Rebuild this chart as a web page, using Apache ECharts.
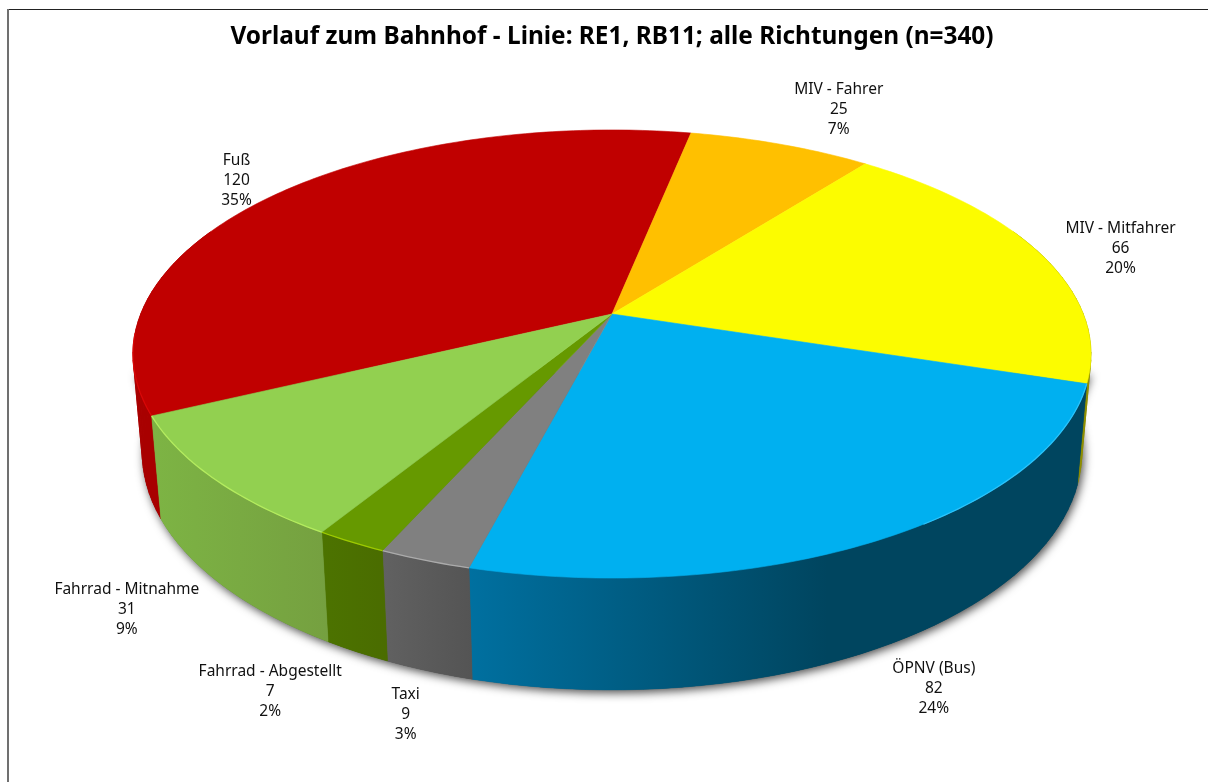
<!DOCTYPE html>
<html><head><meta charset="utf-8">
<style>html,body{margin:0;padding:0;background:#fff}#c{width:1208px;height:782px}</style>
<script src="https://cdn.jsdelivr.net/npm/echarts@6/dist/echarts.min.js"></script>
</head><body><div id="c"></div>
<script>
const titleText = 'Vorlauf zum Bahnhof - Linie: RE1, RB11; alle Richtungen (n=340)';
const categories = ['Fuß','MIV - Fahrer','MIV - Mitfahrer','ÖPNV (Bus)','Taxi','Fahrrad - Abgestellt','Fahrrad - Mitnahme'];
const values = [120,25,66,82,9,7,31];
const percentLabels = ['35%','7%','20%','24%','3%','2%','9%'];

// styling
const topColors = ['#C00000','#FFC000','#FCFC00','#00B0F0','#808080','#669900','#92D050'];
const wallColors = [
  [[0,'#A80000'],[1,'#A80000']],
  [[0,'#A87E00'],[1,'#A87E00']],
  [[0,'#8E8E00'],[1,'#8E8E00']],
  [[0,'#0070A0'],[0.58,'#00455F'],[1,'#00455F']],
  [[0,'#616161'],[1,'#545454']],
  [[0,'#4C7300'],[1,'#4A6C00']],
  [[0,'#7DB444'],[1,'#75A040']]
];
const rimColors = ['#DC0808',null,null,'#30C8FF','#B0B0B0','#A4D000','#B8F060'];
// label offset from the slice's rim mid-point
const labelOffsets = [[-40,-14],[58,-35],[81,-4],[52,149],[-19,154],[-81,150],[-88,130]];

// projection of the disc
const scene = {cx:612, cy:314, a:471.3, b:216.9, k:0.1786, d:99, m:0.019, start:-115.7};
function proj(deg, z){
  const t = deg*Math.PI/180, u = Math.sin(t), v = -Math.cos(t);
  const w = 1 - scene.k*v + scene.m*z;
  return [scene.cx + scene.a*u/w, scene.cy + (scene.b*v + scene.d*z)/w];
}
const total = values.reduce((s,x)=>s+x,0);
const spans = []; (function(){ let acc = scene.start;
  values.forEach(x=>{ const e = acc + x/total*360; spans.push([acc,e]); acc = e; }); })();
function arc(a0,a1,z){ const n = Math.max(2,Math.ceil(Math.abs(a1-a0))); const p=[];
  for(let i=0;i<=n;i++) p.push(proj(a0+(a1-a0)*i/n,z)); return p; }
const itemData = values.map((v,i)=>({name:categories[i],value:v}));
const BODY = '"Noto Sans"';

// the part of a slice's outer wall that faces the viewer
function frontSpan(a0,a1){
  if(a0 < -66) return [a0, Math.min(a1,-66)];
  const s = Math.max(a0,66);
  return s < a1 ? [s,a1] : null;
}
function wallFill(i,a0,a1){
  const xs=arc(a0,a1,0).concat(arc(a0,a1,1)).map(q=>q[0]);
  return {type:'linear',global:true,x:Math.min(...xs),y:0,x2:Math.max(...xs),y2:0,
    colorStops:wallColors[i].map(s=>({offset:s[0],color:s[1]}))};
}

const option = {
  animation:false, backgroundColor:'#fff',
  title:{text:titleText,left:607,textAlign:'center',top:20,
    textStyle:{fontFamily:BODY,fontSize:24.4,fontWeight:'bold',color:'#000'}},
  graphic:[
    {type:'line',shape:{x1:8,y1:9.5,x2:1208,y2:9.5},style:{stroke:'#222',lineWidth:1}},
    {type:'line',shape:{x1:8,y1:9,x2:8,y2:782},style:{stroke:'#707070',lineWidth:2}}
  ],
  series:[
    {type:'custom',coordinateSystem:'none',z:1,silent:true,data:[0],
      renderItem(){ return {type:'polygon',
        shape:{points:[proj(105,0)].concat(arc(90,270,1),[proj(255,0)])},
        style:{fill:'#555',shadowBlur:10,shadowColor:'rgba(0,0,0,0.7)',shadowOffsetX:2,shadowOffsetY:3}}; }},
    {type:'custom',coordinateSystem:'none',z:2,silent:true,data:itemData,
      renderItem(p){ const i=p.dataIndex; const sp=frontSpan(spans[i][0],spans[i][1]);
        if(!sp) return {type:'group',children:[]};
        const [a0,a1]=sp; const fill=wallFill(i,a0,a1);
        const kids=[{type:'polygon',shape:{points:arc(a0,a1,0).concat(arc(a1,a0,1))},style:{fill}}];
        const n=Math.ceil((a1-a0)/2);
        for(let j=0;j<n;j++){
          const s=a0+(a1-a0)*j/n,e=a0+(a1-a0)*(j+1)/n;
          kids.push({type:'polygon',shape:{points:[proj(s,0),proj(e,0),proj(e,1),proj(s,1)]},
            style:{fill,stroke:fill,lineWidth:0.5}});
        }
        return {type:'group',children:kids}; }},
    {type:'custom',coordinateSystem:'none',z:3,silent:true,data:itemData,
      renderItem(p){ const i=p.dataIndex,[a0,a1]=spans[i]; const c=topColors[i];
        const pts=[[scene.cx,scene.cy]].concat(arc(a0,a1,0));
        const kids=[{type:'polygon',shape:{points:pts},style:{fill:c,stroke:c,lineWidth:0.6}}];
        if(rimColors[i]){
          let from=a0,to=a1;
          if(i===0) to=-95;
          if(i===3) to=a0+38;
          kids.push({type:'polyline',shape:{points:arc(from,to,0)},
            style:{fill:null,stroke:rimColors[i],lineWidth:1.3,opacity:0.9}});
        }
        return {type:'group',children:kids}; }},
    {type:'custom',coordinateSystem:'none',z:4,silent:true,data:itemData,
      renderItem(p){ const i=p.dataIndex,[a0,a1]=spans[i];
        const m=proj((a0+a1)/2,0), o=labelOffsets[i];
        return {type:'text',x:m[0]+o[0],y:m[1]+o[1],
          style:{text:[categories[i],values[i],percentLabels[i]].join('\n'),
            align:'center',verticalAlign:'middle',lineHeight:20,
            font:'15.5px '+BODY,fill:'#111'}}; }}
  ]
};
echarts.init(document.getElementById('c'),null,{renderer:'canvas',width:1208,height:782}).setOption(option);
</script></body></html>
